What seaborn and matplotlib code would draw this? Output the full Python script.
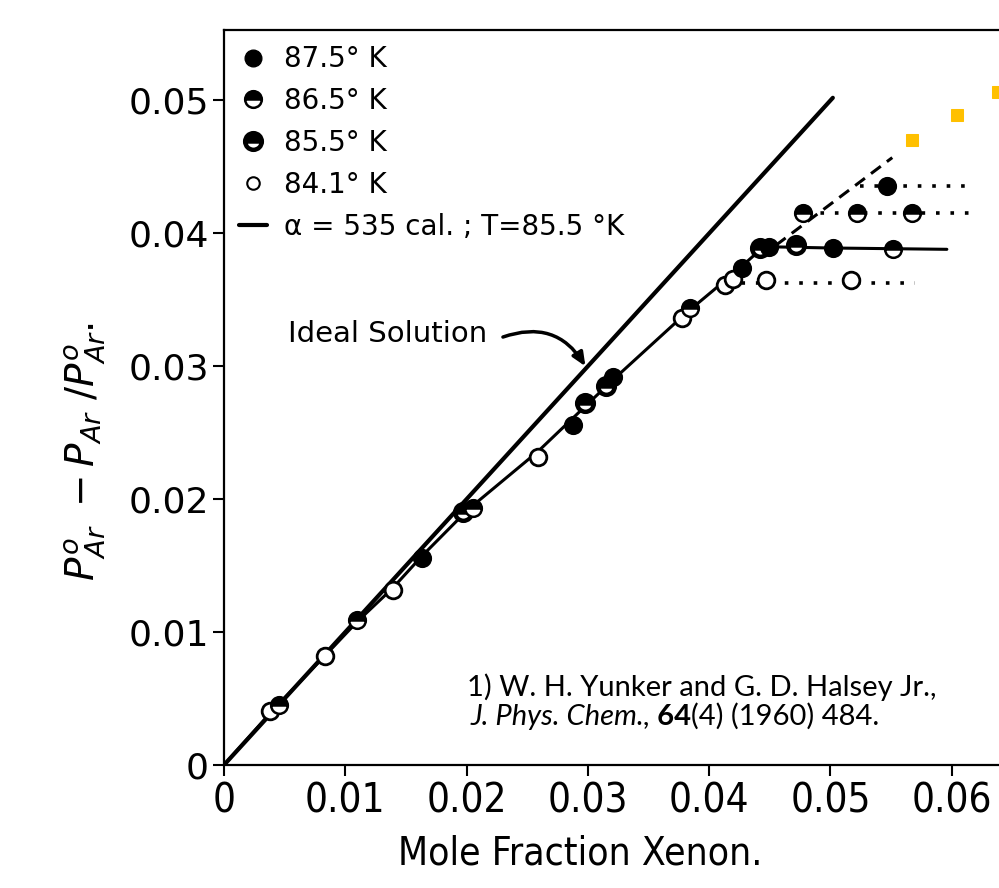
import matplotlib.pyplot as plt
import seaborn as sns
from matplotlib.lines import Line2D

# ============================
# DATA
# ============================
# 87.5 K - filled circles
x_875 = [0.0163, 0.0288, 0.0321, 0.0427, 0.0449, 0.0502, 0.0547]
y_875 = [0.0156, 0.0256, 0.0292, 0.0374, 0.0390, 0.0389, 0.0436]
# 86.5 K - top half filled
x_865 = [0.0045, 0.0110, 0.0205, 0.0384, 0.0477, 0.0522, 0.0567, 0.0552]
y_865 = [0.0045, 0.0109, 0.0193, 0.0344, 0.0415, 0.0415, 0.0415, 0.0388]
# 85.5 K
x_855 = [0.0197, 0.0298, 0.0315, 0.0442, 0.0472]
y_855 = [0.0190, 0.0272, 0.0285, 0.0389, 0.0391]
# 84.1 K - open circles
x_841 = [0.0038, 0.0083, 0.0139, 0.0259, 0.0378, 0.0413, 0.0420, 0.0447, 0.0517]
y_841 = [0.0041, 0.0082, 0.0132, 0.0232, 0.0336, 0.0361, 0.0366, 0.0365, 0.0365]

# calculated curve, alpha = 535 cal, T = 85.5 K
curve_x = [0, 0.0040, 0.0083, 0.0110, 0.0139, 0.0163, 0.0201, 0.0259, 0.0298,
           0.0321, 0.0381, 0.0423, 0.0445, 0.0500, 0.0596]
curve_y = [0, 0.0041, 0.0082, 0.0108, 0.0133, 0.0157, 0.0192, 0.0236, 0.0270,
           0.0290, 0.0340, 0.0372, 0.0390, 0.0389, 0.0388]

# ideal solution line
ideal_x = [0, 0.0502]
ideal_y = [0, 0.0502]

# dashed extension
dash_x = [0.0455, 0.0551]
dash_y = [0.0391, 0.0457]

# dotted saturation plateaus
dot_x0 = [0.0524, 0.0480, 0.0415]
dot_x1 = [0.0615, 0.0621, 0.0570]
dot_y = [0.0436, 0.0415, 0.0363]

# added points (yellow)
yel_x = [0.0567, 0.0604, 0.0638]
yel_y = [0.0470, 0.0489, 0.0506]

# ============================
# STYLE
# ============================
sns.set_style("ticks")
plt.rcParams["font.family"] = ["DejaVu Sans"]
for k in ["text.color", "axes.labelcolor", "xtick.color", "ytick.color", "axes.edgecolor"]:
    plt.rcParams[k] = "black"
AMARELO = "#FFC000"

fig = plt.figure(figsize=(9.99, 8.88), dpi=100)
ax = fig.add_axes([0.2242, 0.1385, 0.7758, 0.8277])

# lines
sns.lineplot(x=ideal_x, y=ideal_y, color="black", lw=3, ax=ax, estimator=None, sort=False)
sns.lineplot(x=curve_x, y=curve_y, color="black", lw=2.2, ax=ax, estimator=None, sort=False)
sns.lineplot(x=dash_x, y=dash_y, color="black", lw=2.2, linestyle=(0, (4, 2.5)),
             ax=ax, estimator=None, sort=False)
for a, b, yy in zip(dot_x0, dot_x1, dot_y):
    sns.lineplot(x=[a, b], y=[yy, yy], color="black", lw=2.6, linestyle=(0, (1, 3)),
                 ax=ax, estimator=None, sort=False)

# measured points
pt = dict(marker="o", linestyle="none", markersize=12, estimator=None, sort=False,
          ax=ax, color="black", markeredgecolor="black")
sns.lineplot(x=x_841, y=y_841, markerfacecolor="white", markeredgewidth=2, **pt)
sns.lineplot(x=x_855, y=y_855, fillstyle="top", markerfacecolor="black",
             markerfacecoloralt="white", markeredgewidth=3.2, **pt)
sns.lineplot(x=x_865, y=y_865, fillstyle="top", markerfacecolor="black",
             markerfacecoloralt="white", markeredgewidth=1.8, **pt)
sns.lineplot(x=x_875, y=y_875, markerfacecolor="black", markeredgewidth=1.8, **pt)

sns.lineplot(x=yel_x, y=yel_y, marker="s", linestyle="none", markersize=8, color=AMARELO,
             markeredgecolor=AMARELO, ax=ax, estimator=None, sort=False, clip_on=False)

# ============================
# AXES
# ============================
ax.set_xlim(0, 0.0639)
ax.set_ylim(0, 0.0553)
ax.spines["right"].set_visible(False)
for s in ["left", "top", "bottom"]:
    ax.spines[s].set_linewidth(1.6)

ax.set_xticks([0, 0.01, 0.02, 0.03, 0.04, 0.05, 0.06])
ax.set_xticklabels(["0", "0.01", "0.02", "0.03", "0.04", "0.05", "0.06"])
ax.set_yticks([0, 0.01, 0.02, 0.03, 0.04, 0.05])
ax.set_yticklabels(["0", "0.01", "0.02", "0.03", "0.04", "0.05"])
ax.tick_params(axis="x", direction="out", length=8, width=1.5, pad=4)
ax.tick_params(axis="y", direction="out", length=8, width=1.5, pad=3, labelsize=26)
for lab in ax.get_xticklabels():
    lab.set_fontstretch("condensed")
    lab.set_fontsize(29)

ax.set_xlabel("Mole Fraction Xenon.", fontsize=28, fontstretch="condensed")
ax.xaxis.set_label_coords(0.459, -0.094)
ax.set_ylabel(r"$P^{o}_{Ar}\ -P_{Ar}\ /P^{o}_{Ar}.$", fontsize=28)
ax.yaxis.set_label_coords(-0.15, 0.426)

# Ideal solution note
ax.text(0.0053, 0.0324, "Ideal Solution", fontsize=21, va="center", ha="left")
ax.annotate("", xy=(0.0298, 0.0300), xytext=(0.0230, 0.0322),
            arrowprops=dict(arrowstyle="-|>,head_length=0.8,head_width=0.35", color="black",
                            lw=2.5, connectionstyle="arc3,rad=-0.4", shrinkA=0, shrinkB=0))

# reference
ref_font = ["Lato", "DejaVu Sans"]
ax.text(0.0200, 0.0052, "1) W. H. Yunker and G. D. Halsey Jr.,", family=ref_font,
        fontsize=21, va="baseline")
t1 = ax.text(0.0203, 0.0030, "J. Phys. Chem.,", family=ref_font, style="italic",
             fontsize=21, va="baseline")
t2 = ax.annotate(" 64", xy=(1, 0), xycoords=t1, family=ref_font, weight="bold",
                 fontsize=21, va="bottom")
ax.annotate("(4) (1960) 484.", xy=(1, 0), xycoords=t2, family=ref_font,
            fontsize=21, va="bottom")

# legend
handles = [
    Line2D([], [], marker="o", ls="none", ms=12, mfc="black", mec="black"),
    Line2D([], [], marker="o", ls="none", ms=12, fillstyle="top", mfc="black",
           mfcalt="white", mec="black", mew=1.8),
    Line2D([], [], marker="o", ls="none", ms=12, fillstyle="top", mfc="black",
           mfcalt="white", mec="black", mew=3.2),
    Line2D([], [], marker="o", ls="none", ms=9, mfc="white", mec="black", mew=1.5),
    Line2D([], [], color="black", lw=3),
]
labels = ["87.5° K", "86.5° K", "85.5° K", "84.1° K", "α = 535 cal. ; T=85.5 °K"]
ax.legend(handles, labels, loc="upper left", bbox_to_anchor=(0.0, 1.0), frameon=False,
          fontsize=20, handlelength=1.0, handletextpad=0.6, labelspacing=0.5,
          borderaxespad=0.15)

fig.savefig("out.png", dpi=100)
